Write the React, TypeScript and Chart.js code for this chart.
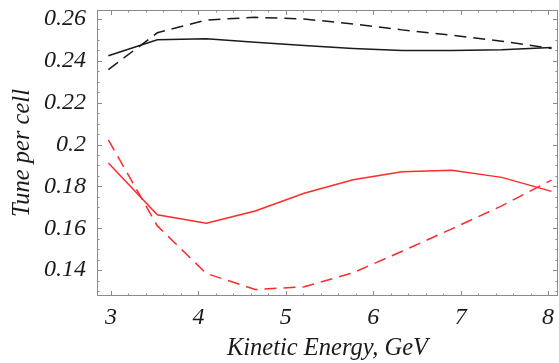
import React, { useEffect, useRef } from "react";
import { Chart, registerables } from "chart.js";

Chart.register(...registerables);

const energy = [2.97, 3.53, 4.09, 4.65, 5.21, 5.77, 6.33, 6.9, 7.47, 8.04];
const blackSolid = [0.2424, 0.2501, 0.2506, 0.2489, 0.2473, 0.2459, 0.245, 0.2449, 0.2453, 0.2464];
const blackDashed = [0.2358, 0.2534, 0.2595, 0.2608, 0.26, 0.2576, 0.2548, 0.2522, 0.2494, 0.2459];
const redSolid = [0.1912, 0.1664, 0.1624, 0.1682, 0.1767, 0.1832, 0.187, 0.1877, 0.1843, 0.1776];
const redDashed = [0.2022, 0.1611, 0.1384, 0.1307, 0.132, 0.1387, 0.149, 0.1597, 0.1707, 0.183];

const xTicks = [3, 4, 5, 6, 7, 8];
const yTicks = [0.14, 0.16, 0.18, 0.2, 0.22, 0.24, 0.26];

const X_MIN = 2.84;
const X_MAX = 8.114;
const Y_MIN = 0.1276;
const Y_MAX = 0.2643;

const TICK_FONT = { family: "Liberation Serif", size: 24, style: "italic" as const };
const TITLE_FONT = { family: "Liberation Serif", size: 24.5, style: "italic" as const };

const pts = (ys: number[]) => energy.map((x, i) => ({ x, y: ys[i] }));

const framePlugin = {
  id: "frameTicks",
  afterDraw(chart: any) {
    const { ctx, chartArea: a, scales } = chart;
    const xs = scales.x;
    const ys = scales.y;
    ctx.save();
    ctx.strokeStyle = "#8a8a8a";
    ctx.lineWidth = 1;
    ctx.strokeRect(a.left + 0.5, a.top + 0.5, a.right - a.left - 1, a.bottom - a.top - 1);
    ctx.beginPath();
    for (let i = Math.ceil(X_MIN / 0.2); i * 0.2 <= X_MAX; i++) {
      const v = i * 0.2;
      const major = Math.abs(v - Math.round(v)) < 1e-6;
      const len = major ? 5 : 2.5;
      const px = Math.round(xs.getPixelForValue(v)) + 0.5;
      ctx.moveTo(px, a.bottom);
      ctx.lineTo(px, a.bottom - len);
      ctx.moveTo(px, a.top);
      ctx.lineTo(px, a.top + len);
    }
    for (let i = Math.ceil(Y_MIN / 0.005 - 1e-6); i * 0.005 <= Y_MAX; i++) {
      const v = i * 0.005;
      const major = Math.abs(v / 0.02 - Math.round(v / 0.02)) < 1e-6;
      const len = major ? 5 : 2.5;
      const py = Math.round(ys.getPixelForValue(v)) + 0.5;
      ctx.moveTo(a.left, py);
      ctx.lineTo(a.left + len, py);
      ctx.moveTo(a.right, py);
      ctx.lineTo(a.right - len, py);
    }
    ctx.stroke();
    ctx.restore();
  },
};

export default function App() {
  const ref = useRef<HTMLCanvasElement>(null);
  useEffect(() => {
    if (!ref.current) return;
    const chart = new Chart(ref.current, {
      type: "line",
      data: {
        datasets: [
          { data: pts(blackSolid), borderColor: "#1a1a1a", borderWidth: 1.5, pointRadius: 0, tension: 0 },
          { data: pts(blackDashed), borderColor: "#1a1a1a", borderWidth: 1.5, borderDash: [12, 7], pointRadius: 0, tension: 0 },
          { data: pts(redSolid), borderColor: "#ff2a2a", borderWidth: 1.5, pointRadius: 0, tension: 0 },
          { data: pts(redDashed), borderColor: "#ff2a2a", borderWidth: 1.5, borderDash: [12, 7], pointRadius: 0, tension: 0 },
        ],
      },
      options: {
        responsive: false,
        animation: false,
        layout: { padding: { top: 10, right: 1, left: 0, bottom: 0 } },
        plugins: { legend: { display: false }, tooltip: { enabled: false } },
        scales: {
          x: {
            type: "linear",
            min: X_MIN,
            max: X_MAX,
            grid: { display: false, drawTicks: false },
            border: { display: false },
            afterBuildTicks: (s: any) => {
              s.ticks = xTicks.map((v) => ({ value: v }));
            },
            afterFit: (s: any) => {
              s.height = 67;
              s.paddingLeft = 0;
              s.paddingRight = 0;
            },
            ticks: { font: TICK_FONT, color: "#1a1a1a", padding: 7, maxRotation: 0, autoSkip: false, callback: (v: any) => String(v) },
            title: { display: true, text: "Kinetic Energy, GeV", font: TITLE_FONT, color: "#1a1a1a", padding: { top: 0, bottom: 0 } },
          },
          y: {
            type: "linear",
            min: Y_MIN,
            max: Y_MAX,
            grid: { display: false, drawTicks: false },
            border: { display: false },
            afterBuildTicks: (s: any) => {
              s.ticks = yTicks.map((v) => ({ value: v }));
            },
            afterFit: (s: any) => {
              s.width = 97;
              s.paddingTop = 0;
              s.paddingBottom = 0;
            },
            ticks: { font: TICK_FONT, color: "#1a1a1a", padding: 11, autoSkip: false, callback: (v: any) => String(Math.round(v * 100) / 100) },
            title: { display: true, text: "Tune per cell", font: TITLE_FONT, color: "#1a1a1a", padding: { top: 8, bottom: 0 } },
          },
        },
      },
      plugins: [framePlugin],
    });
    return () => chart.destroy();
  }, []);
  return (
    <div style={{ position: "fixed", left: 0, top: 0, width: 559, height: 363, background: "#fff" }}>
      <canvas ref={ref} width={559} height={363} style={{ display: "block" }} />
    </div>
  );
}
